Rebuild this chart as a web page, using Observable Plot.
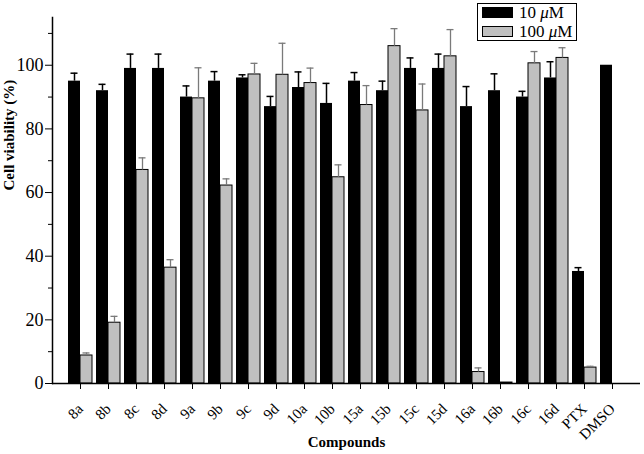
<!DOCTYPE html>
<html>
<head>
<meta charset="utf-8">
<script src="https://cdn.jsdelivr.net/npm/d3@7"></script>
<script src="https://cdn.jsdelivr.net/npm/@observablehq/plot@0.6"></script>
<style>
  body { margin: 0; background: #fff; }
  #wrap { position: relative; width: 644px; height: 454px; }
  #wrap g[aria-label="y-axis tick label"] { font-size: 18px; }
  #wrap g[aria-label="x-axis tick label"] { font-size: 15px; }
  .legend { position: absolute; left: 477px; top: 3px; width: 98px; height: 36px; border: 1px solid #000; background: #fff; font-family: "Liberation Serif", serif; font-size: 17px; }
  .sw { position: absolute; left: 4px; width: 31px; height: 11px; border: 1px solid #000; box-sizing: border-box; }
  .lt { position: absolute; left: 41px; line-height: 17px; white-space: nowrap; }
</style>
</head>
<body>
<div id="wrap"></div>
<script>
const compounds = ["8a","8b","8c","8d","9a","9b","9c","9d","10a","10b","15a","15b","15c","15d","16a","16b","16c","16d","PTX","DMSO"];
const series = ["10 μM", "100 μM"];
const v10  = [95, 92, 99, 99, 90, 95, 96, 87, 93, 88, 95, 92, 99, 99, 87, 92, 90, 96, 35.2, 100];
const e10  = [2.5, 2, 4.5, 4.5, 3.5, 3, 1, 3.2, 4.9, 6.3, 2.7, 3, 3.3, 4.5, 6.3, 5.3, 1.8, 5.1, 1.2, 0];
const v100 = [8.8, 19.1, 67.1, 36.4, 89.6, 62.2, 97.1, 97, 94.4, 64.8, 87.5, 106, 85.8, 102.8, 3.6, 0.3, 100.6, 102.3, 5.0, null];
const e100 = [0.8, 2, 3.8, 2.5, 9.6, 2.1, 3.5, 9.9, 4.7, 3.9, 6.1, 5.5, 8.3, 8.4, 1.3, 0, 3.7, 3.2, 0.4, null];
const majorTicks = [0, 20, 40, 60, 80, 100];
const minorTicks = [10, 30, 50, 70, 90, 110];

const rows10 = compounds.map((c, i) => ({compound: c, value: v10[i], err: e10[i]}));
const rows100 = compounds.map((c, i) => ({compound: c, value: v100[i], err: e100[i]})).filter(d => d.value != null);
const err10 = rows10.filter(d => d.err > 0);
const err100 = rows100.filter(d => d.err > 0);

const FF = "Liberation Serif";

const chart = Plot.plot({
  width: 644,
  height: 454,
  marginLeft: 52,
  marginRight: 4,
  marginTop: 17,
  marginBottom: 71,
  style: "font-family: 'Liberation Serif', serif; font-size: 15px; background: #fff; color: #000;",
  x: {domain: compounds, paddingInner: 0, paddingOuter: 0.5, label: null},
  y: {domain: [0, 115], label: null},
  marks: [
    Plot.barY(rows10, {x: "compound", y: "value", fill: "#000", insetLeft: 2, insetRight: 14}),
    Plot.barY(rows100, {x: "compound", y: "value", fill: "#c0c0c0", stroke: "#000", strokeWidth: 1, insetLeft: 14, insetRight: 2}),
    Plot.ruleX(err10, {x: "compound", y1: "value", y2: d => d.value + d.err, dx: -6, stroke: "#000", strokeWidth: 1.5}),
    Plot.tickY(err10, {x: "compound", y: d => d.value + d.err, insetLeft: 4.5, insetRight: 16.5, stroke: "#000", strokeWidth: 1.5}),
    Plot.ruleX(err100, {x: "compound", y1: "value", y2: d => d.value + d.err, dx: 6, stroke: "#7a7a7a", strokeWidth: 1.3}),
    Plot.tickY(err100, {x: "compound", y: d => d.value + d.err, insetLeft: 16.5, insetRight: 4.5, stroke: "#7a7a7a", strokeWidth: 1.3}),
    Plot.axisY({ticks: majorTicks, tickSize: 7, tickPadding: 2, label: null, fontSize: 18, fontFamily: FF}),
    Plot.axisY({ticks: minorTicks, tickSize: 4, tickFormat: () => "", label: null}),
    Plot.axisX({tickSize: 6, tickRotate: -45, tickPadding: 17, label: null, fontSize: 15, fontFamily: FF}),
    Plot.ruleY([0], {stroke: "#000", strokeWidth: 1.5}),
    Plot.frame({anchor: "left", stroke: "#000", strokeWidth: 1.5}),
    Plot.text(["Cell viability (%)"], {frameAnchor: "left", dx: -43, dy: -10, rotate: -90, fontWeight: "bold", fontSize: 15, fontFamily: FF, lineAnchor: "middle"}),
    Plot.text(["Compounds"], {frameAnchor: "bottom", dy: 59, fontWeight: "bold", fontSize: 15, fontFamily: FF, lineAnchor: "middle"})
  ]
});

const wrap = document.getElementById("wrap");
wrap.appendChild(chart);

const legend = document.createElement("div");
legend.className = "legend";
const fills = ["#000", "#c0c0c0"];
const tops = [3, 22];
series.forEach((s, i) => {
  const sw = document.createElement("div");
  sw.className = "sw";
  sw.style.top = tops[i] + "px";
  sw.style.background = fills[i];
  legend.appendChild(sw);
  const t = document.createElement("div");
  t.className = "lt";
  t.style.top = (tops[i] - 3) + "px";
  const [num, unit] = s.split(" ");
  t.innerHTML = num + " <i>" + unit[0] + "</i>" + unit.slice(1);
  legend.appendChild(t);
});
wrap.appendChild(legend);
</script>
</body>
</html>
